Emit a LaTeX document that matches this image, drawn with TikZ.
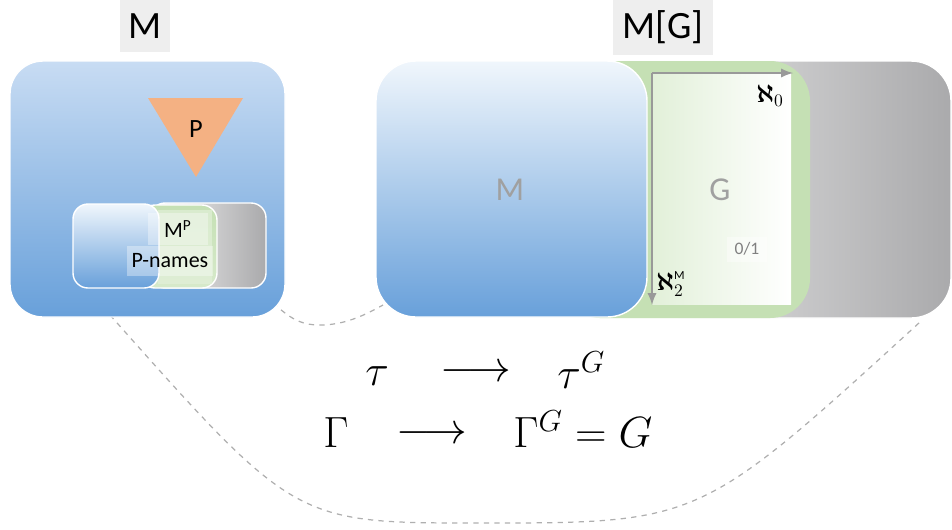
\documentclass[tikz,border=0pt]{standalone}
\usepackage{fontspec}
\setmainfont{Carlito}
\usepackage{amsmath}
\usetikzlibrary{calc, shapes, arrows, positioning}
\usepackage{xcolor}
\definecolor{bluelight}{RGB}{200,220,243}
\definecolor{bluewhite}{RGB}{240,246,252}
\definecolor{bluedark}{RGB}{104,160,218}
\definecolor{greenbox}{RGB}{197,224,180}
\definecolor{greeninner}{RGB}{226,240,217}
\definecolor{graylight}{RGB}{245,245,245}
\definecolor{graydark}{RGB}{170,170,172}
\definecolor{peach}{RGB}{244,177,131}
\definecolor{labelbg}{RGB}{238,238,238}
\definecolor{dashgray}{RGB}{175,175,175}
\definecolor{textgray}{RGB}{160,160,160}

\begin{document}
\begin{tikzpicture}[x=0.02cm,y=-0.02cm]
	\newcommand{\myfontlabel}[1]{
		\fontsize{22}{24}\selectfont{#1}
	}\newcommand{\myfontbox}[1]{
		\fontsize{19}{21}\selectfont{#1}
	}\newcommand{\myfontsmall}[1]{
		\fontsize{12.5}{14}\selectfont{#1}
	}\newcommand{\myfontmath}[1]{
		\fontsize{25}{30}\selectfont{#1}
	}
	\tikzset{
		outline/.style={draw=white, line width=0.8pt},
		dashcurve/.style={draw=dashgray, dashed, line width=0.7pt},
		axisarrow/.style={draw=gray!80, line width=1.3pt, -latex}
	}
	\useasboundingbox (0,0) rectangle (952,529);
	%Dashed curves behind the boxes
	\coordinate (bigL) at (110,315);
	\coordinate (bigB) at (480,523);
	\coordinate (bigR) at (920,322);
	\coordinate (smallL) at (273,303);
	\coordinate (smallB) at (320,325);
	\coordinate (smallR) at (383,305);
	\draw [dashcurve] (bigL) .. controls (295,523) .. (bigB) .. controls (700,523) .. (bigR);
	\draw [dashcurve] (smallL) .. controls (290,318) and (300,325) .. (smallB) .. controls (345,325) and (365,315) .. (smallR);
	%Labels at the top
	\node [fill=labelbg, minimum width=1.0cm, minimum height=1.05cm, inner sep=0pt] (labM) at (145,26) {\myfontlabel{M}};
	\node [fill=labelbg, minimum width=2.0cm, minimum height=1.1cm, inner sep=0pt] (labMG) at (663,27) {\myfontlabel{M[G]}};
	%Left box M
	\shade [outline, rounded corners=0.66cm, top color=bluelight, bottom color=bluedark] (10,61) rectangle (285,317);
	%Triangle P
	\coordinate (triL) at (148,98);
	\coordinate (triR) at (243,98);
	\coordinate (triB) at (196,177);
	\fill [peach] (triL) -- (triR) -- (triB) -- cycle;
	\node [inner sep=0pt] (labP) at (196,129) {\fontsize{15}{17}\selectfont P};
	%Small nested boxes
	\shade [outline, rounded corners=0.3cm, left color=graylight, right color=graydark] (150,203) rectangle (266,288);
	\shade [outline, rounded corners=0.3cm, top color=greenbox, bottom color=greenbox!70!white] (140,205) rectangle (217,288);
	\fill [greeninner, opacity=0.7] (158,210) rectangle (212,284);
	\shade [outline, rounded corners=0.3cm, top color=bluewhite, bottom color=bluedark] (73,204) rectangle (159,288);
	\node [fill=white, fill opacity=0.35, text opacity=1, minimum width=1.2cm, minimum height=0.64cm, inner sep=0pt] (labMP) at (178,229) {\myfontsmall{M\textsuperscript{P}}};
	\node [fill=white, fill opacity=0.35, text opacity=1, minimum width=1.72cm, minimum height=0.6cm, inner sep=0pt] (labPnames) at (170,261) {\myfontsmall{P-names}};
	%Right part: gray, green, blue
	\shade [outline, rounded corners=0.8cm, left color=graylight, right color=graydark] (560,61) rectangle (951,318);
	\fill [greenbox, rounded corners=0.8cm] (560,61) rectangle (810,318);
	\shade [left color=greeninner, right color=white] (652,73) rectangle (791,304);
	\shade [outline, rounded corners=0.8cm, top color=bluewhite, bottom color=bluedark] (376,61) rectangle (647,317);
	%Axes in G
	\coordinate (origin) at (652,73);
	\coordinate (axisR) at (793,73);
	\coordinate (axisD) at (652,305);
	\draw [axisarrow] (origin) -- (axisR);
	\draw [axisarrow] (origin) -- (axisD);
	\node [inner sep=0pt] (alephzero) at (770,96) {\fontsize{14}{16}\selectfont$\boldsymbol{\aleph}_0$};
	\node [inner sep=0pt] (alephtwo) at (671,284) {\fontsize{14}{16}\selectfont$\boldsymbol{\aleph}_2^{\scriptscriptstyle\mathrm{M}}$};
	\node [fill=white, fill opacity=0.4, text opacity=1, minimum width=0.8cm, minimum height=0.5cm, inner sep=0pt, text=gray] (labzo) at (747,249) {\fontsize{10}{12}\selectfont 0/1};
	%Letters in the big boxes
	\node [text=textgray, inner sep=0pt] (labMbox) at (510,190) {\myfontbox{M}};
	\node [text=textgray, inner sep=0pt] (labGbox) at (720,190) {\myfontbox{G}};
	%The maps
	\node [inner sep=0pt] (tau) at (377,376) {\myfontmath{$\tau$}};
	\node [inner sep=0pt] (arrowone) at (476,373) {\myfontmath{$\longrightarrow$}};
	\node [inner sep=0pt, anchor=west] (tauG) at (557,370) {\myfontmath{$\tau^G$}};
	\node [inner sep=0pt] (Gam) at (336,433) {\myfontmath{$\Gamma$}};
	\node [inner sep=0pt] (arrowtwo) at (432,435) {\myfontmath{$\longrightarrow$}};
	\node [inner sep=0pt, anchor=west] (GamG) at (513,429) {\myfontmath{$\Gamma^G = G$}};
\end{tikzpicture}
\end{document}
